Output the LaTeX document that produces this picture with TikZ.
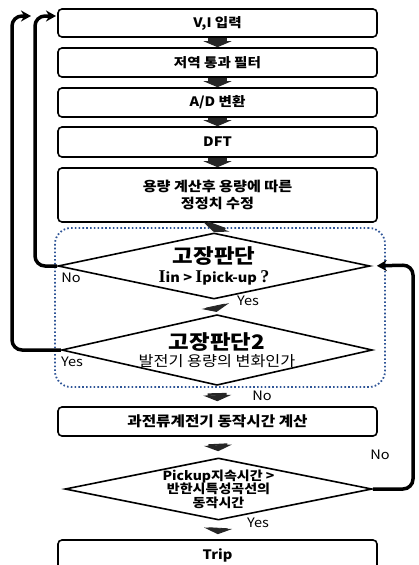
\documentclass[tikz,border=0pt]{standalone}
\usepackage{fontspec}
\setmainfont{Noto Sans CJK KR}[FakeStretch=1.12]
\newfontfamily\serifI{Liberation Serif}
\usetikzlibrary{arrows.meta,shapes.geometric}
\definecolor{frameblue}{RGB}{47,85,151}
\begin{document}
\begin{tikzpicture}[x=1pt,y=-1pt,
  box/.style={draw,line width=1.6pt,rounded corners=4pt,minimum width=319pt,inner sep=0pt,font=\bfseries\fontsize{13}{16}\selectfont,align=center},
  dia/.style={draw,diamond,line width=1.6pt,inner sep=0pt,align=center},
  blk/.style={line width=19pt,black!85,-{Triangle[width=28pt,length=6pt]}},
  loopline/.style={line width=3.5pt,rounded corners=10pt,-{Stealth[length=10pt,width=11pt]}},
  lab/.style={font=\fontsize{13}{15}\selectfont,inner sep=0pt},
  grp/.style={draw=frameblue,line width=1.8pt,dash pattern=on 1.6pt off 2.2pt,rounded corners=16pt,inner sep=0pt},
]
\useasboundingbox (0,0) rectangle (419,565);

\node[grp,minimum width=330pt,minimum height=159pt] (frame) at (220,307.5) {};

\node[box,minimum height=28pt] (b1) at (217.5,23) {V,I 입력};
\node[box,minimum height=29pt] (b2) at (217.5,62.5) {저역 통과 필터};
\node[box,minimum height=29pt] (b3) at (217.5,102.5) {A/D 변환};
\node[box,minimum height=30pt] (b4) at (217.5,142) {DFT};
\node[box,minimum height=54pt,font=\bfseries\fontsize{13.5}{17}\selectfont] (b5) at (217.5,195) {용량 계산후 용량에 따른\\정정치 수정};
\node[dia,aspect=4.6,minimum width=312pt,minimum height=66pt,font=\fontsize{13}{19}\selectfont] (d1) at (214,266) {{\fontsize{20}{20}\selectfont\bfseries 고장판단}\\{\bfseries\fontsize{13}{15}\selectfont{\serifI\fontsize{18}{15}\selectfont I}in > {\serifI\fontsize{18}{15}\selectfont I}pick-up {\serifI\fontsize{18}{15}\selectfont ?}}};
\node[dia,aspect=4.4,minimum width=310pt,minimum height=70pt,font=\fontsize{13}{17}\selectfont] (d2) at (217,350) {{\fontsize{20}{20}\selectfont\bfseries 고장판단2}\\{\fontsize{14.5}{15}\selectfont 발전기 용량의 변화인가}};
\node[box,minimum height=29pt,font=\bfseries\fontsize{14}{16}\selectfont] (b6) at (217.5,421.5) {과전류계전기 동작시간 계산};
\node[dia,aspect=4.9,minimum width=307pt,minimum height=62pt,font=\bfseries\fontsize{12.5}{13.5}\selectfont] (d3) at (218.5,489) {Pickup지속시간 >\\반한시특성곡선의\\동작시간};
\node[box,minimum height=30pt] (b7) at (217.5,555) {Trip};

\draw[blk] (b1.south) -- (b2.north);
\draw[blk] (b2.south) -- (b3.north);
\draw[blk] (b3.south) -- (b4.north);
\draw[blk] (b4.south) -- (b5.north);
\draw[blk,shorten <=2pt] (b5.south) -- (d1.north);
\draw[blk,shorten <=6pt,shorten >=2pt] (d1.south) -- (d2.north);
\draw[blk,shorten <=7pt,shorten >=5pt] (d2.south) -- (b6.north);
\draw[blk,shorten <=7pt,shorten >=6pt] (b6.south) -- (d3.north);
\draw[blk,shorten <=7pt,shorten >=5pt] (d3.south) -- (b7.north);

\coordinate (c1) at (12,16);
\coordinate (t1) at (31,16);
\coordinate (c2) at (35,16);
\coordinate (t2) at (56,16);
\coordinate (c3) at (413,265);
\draw[loopline] (d2.west) -| (c1) -- (t1);
\draw[loopline] (d1.west) -| (c2) -- (t2);
\draw[loopline,shorten >=6pt] (d3.east) -| (c3) -- (d1.east);

\node[lab] (n1) at (71,278) {No};
\node[lab] (y1) at (248,301) {Yes};
\node[lab] (y2) at (72,362) {Yes};
\node[lab] (n2) at (262,396) {No};
\node[lab] (n3) at (380,455) {No};
\node[lab] (y3) at (258,523) {Yes};
\end{tikzpicture}
\end{document}
